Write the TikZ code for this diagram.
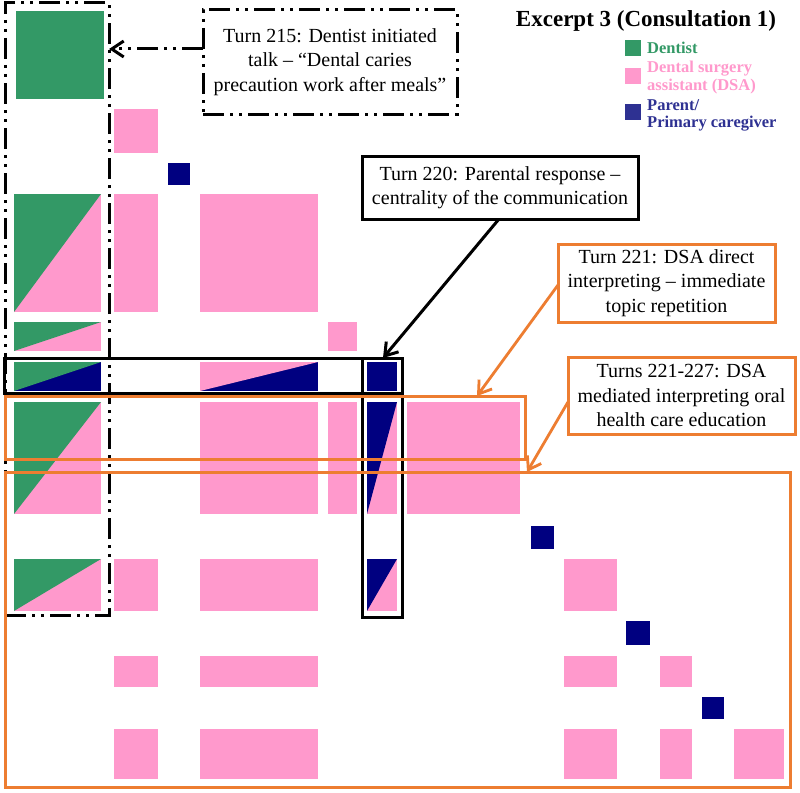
\documentclass[tikz,border=0pt]{standalone}
\usepackage{fontspec}
\setmainfont{Liberation Serif}
\usetikzlibrary{arrows.meta,calc}
\definecolor{dgreen}{HTML}{339966}
\definecolor{dpink}{HTML}{FF99CC}
\definecolor{dnavy}{HTML}{000080}
\definecolor{lnavy}{HTML}{2E3192}
\definecolor{dorange}{HTML}{ED7D31}
\newcommand\trcell[6]{%
  \fill[#6] (#1,#3) rectangle (#2,#4);
  \fill[#5] (#1,#3) -- (#2,#3) -- (#1,#4) -- cycle;}
\newcommand\sqcell[5]{\fill[#5] (#1,#3) rectangle (#2,#4);}
\begin{document}
\begin{tikzpicture}[x=1pt,y=-1pt,
  ddd/.style={line width=3pt, dash pattern=on 21pt off 6pt on 3pt off 6pt on 3pt off 6pt},
  blk/.style={line width=3pt, draw=black},
  org/.style={line width=3pt, draw=dorange},
  frame/.style={inner sep=0pt, outer sep=0pt, fill=none},
  tbox/.style={align=center, inner sep=0pt, outer sep=0pt, fill=white,
     font=\fontsize{20}{24.5}\selectfont},
  barb/.style={-{Straight Barb[length=12pt,width=16pt]}},
  legtxt/.style={anchor=base west, inner sep=0pt, font=\bfseries\fontsize{16.5}{18}\selectfont}
]
\useasboundingbox (0,0) rectangle (800,792);
\fill[white] (0,0) rectangle (800,792);

% ---- cells ----
% row 1
\sqcell{16}{104}{11}{99}{dgreen}
% row 2
\sqcell{114}{158}{109}{153}{dpink}
% row 3
\sqcell{168}{190}{163}{185}{dnavy}
% row 4
\trcell{14}{101}{194}{312}{dgreen}{dpink}
\sqcell{114}{158}{194}{312}{dpink}
\sqcell{200}{318}{194}{312}{dpink}
% row 5
\trcell{14}{101}{322}{351}{dgreen}{dpink}
\sqcell{328}{357}{322}{351}{dpink}
% row 6
\trcell{14}{101}{362}{391}{dgreen}{dnavy}
\trcell{200}{318}{362}{391}{dpink}{dnavy}
\sqcell{367}{397}{362}{391}{dnavy}
% row 7
\trcell{14}{101}{402}{514}{dgreen}{dpink}
\sqcell{200}{318}{402}{514}{dpink}
\sqcell{328}{357}{402}{514}{dpink}
\trcell{367}{397}{402}{514}{dnavy}{dpink}
\sqcell{407}{520}{402}{514}{dpink}
% row 8
\sqcell{531}{554}{526}{549}{dnavy}
% row 9
\trcell{14}{101}{559}{611}{dgreen}{dpink}
\sqcell{114}{158}{559}{611}{dpink}
\sqcell{200}{318}{559}{611}{dpink}
\trcell{367}{397}{559}{611}{dnavy}{dpink}
\sqcell{564}{617}{559}{611}{dpink}
% row 10
\sqcell{626}{650}{621}{645}{dnavy}
% row 11
\sqcell{114}{158}{656}{687}{dpink}
\sqcell{200}{318}{656}{687}{dpink}
\sqcell{564}{617}{656}{687}{dpink}
\sqcell{660}{692}{656}{687}{dpink}
% row 12
\sqcell{702}{724}{697}{719}{dnavy}
% row 13
\sqcell{114}{158}{729}{779}{dpink}
\sqcell{200}{318}{729}{779}{dpink}
\sqcell{564}{617}{729}{779}{dpink}
\sqcell{660}{692}{729}{779}{dpink}
\sqcell{734}{784}{729}{779}{dpink}

% ---- frames ----
\node[frame, draw, ddd, minimum width=104pt, minimum height=612pt] (f1) at (57,309) {};
\node[frame, blk, minimum width=398pt, minimum height=35pt] (frow6) at (203,375.5) {};
\node[frame, blk, minimum width=40pt, minimum height=259pt] (fcol6) at (382,487.5) {};
\node[frame, org, minimum width=520pt, minimum height=63pt] (frow7) at (265,427.5) {};
\node[frame, org, minimum width=785pt, minimum height=315pt] (fbig) at (397.5,629.5) {};

% ---- text boxes ----
\node[tbox, draw, ddd, minimum width=254pt, minimum height=104pt] (t215) at (330,62)
  {Turn 215: Dentist initiated\\talk – “Dental caries\\precaution work after meals”};
\node[tbox, blk, minimum width=276pt, minimum height=63pt] (t220) at (500,187.5)
  {Turn 220: Parental response –\\centrality of the communication};
\node[tbox, org, minimum width=217pt, minimum height=78pt] (t221) at (666.5,283)
  {Turn 221: DSA direct\\interpreting – immediate\\topic repetition};
\node[tbox, org, minimum width=227pt, minimum height=77pt] (t227) at (681.5,395.5)
  {Turns 221-227: DSA\\mediated interpreting oral\\health care education};

% ---- connectors ----
\draw[ddd, barb] ([yshift=13pt]t215.west) -- ([yshift=13pt]t215.west -| f1.east);
\draw[line width=3pt, barb] ([xshift=-1pt]t220.south) -- ([xshift=1pt]fcol6.north);
\draw[line width=2.8pt, draw=dorange, barb] ([yshift=-2pt]t221.west) -- ([xshift=-48pt]frow7.north east);
\draw[line width=2.8pt, draw=dorange, barb] ([yshift=-6.5pt]t227.west) -- ([xshift=522pt]fbig.north west);

% ---- legend ----
\node[anchor=base, inner sep=0pt, font=\bfseries\fontsize{23}{26}\selectfont] (title) at (646,27) {Excerpt 3 (Consultation 1)};
\fill[dgreen] (625,40) rectangle (641,56);
\fill[dpink] (625,68) rectangle (641,84);
\fill[lnavy] (625,104) rectangle (641,120);
\node[legtxt, text=dgreen] (lg1) at (647,53) {Dentist};
\node[legtxt, text=dpink] (lg2a) at (647,73) {Dental surgery};
\node[legtxt, text=dpink] (lg2b) at (647,90) {assistant (DSA)};
\node[legtxt, text=lnavy] (lg3a) at (647,110) {Parent/};
\node[legtxt, text=lnavy] (lg3b) at (647,127) {Primary caregiver};
\end{tikzpicture}
\end{document}
